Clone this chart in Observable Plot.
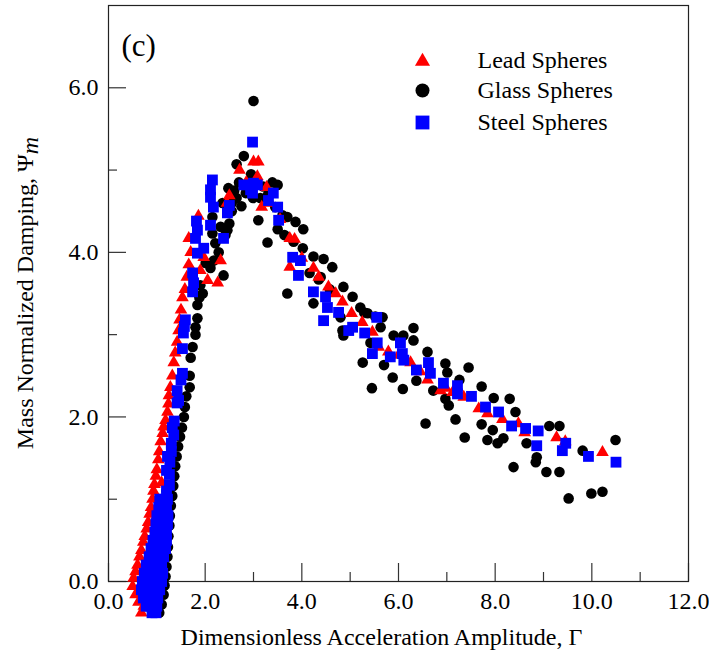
<!DOCTYPE html>
<html>
<head>
<meta charset="utf-8">
<script src="https://cdn.jsdelivr.net/npm/d3@7"></script>
<script src="https://cdn.jsdelivr.net/npm/@observablehq/plot@0.6"></script>
<style>
  html, body { margin: 0; padding: 0; background: #fff; }
  #chart { width: 709px; height: 657px; overflow: hidden; }
</style>
</head>
<body>
<div id="chart"></div>
<script>
// ---- tick values ----
const xMajorTicks = [0, 2, 4, 6, 8, 10, 12];
const xMinorTicks = [1, 3, 5, 7, 9, 11];
const yMajorTicks = [0, 2, 4, 6];
const yMinorTicks = [1, 3, 5];

// ---- series names ----
const seriesNames = ["Lead Spheres", "Glass Spheres", "Steel Spheres"];

// ---- Lead spheres (red triangles) ----
const leadX = [0.68,0.73,0.62,0.56,0.50,0.52,0.56,0.60,0.64,0.68,0.72,0.75,0.79,0.82,0.85,0.88,0.91,0.93,0.95,0.98,
  1.00,1.03,1.05,1.08,1.12,1.14,1.18,1.22,1.24,1.25,1.28,1.32,1.35,1.38,1.42,1.45,1.47,1.50,1.53,1.58,
  1.62,1.66,1.70,1.66,1.86,1.90,1.97,2.05,2.26,2.32,2.50,2.71,3.00,3.10,3.08,3.17,3.27,3.75,3.85,3.75,
  4.00,4.24,4.55,4.70,4.84,5.03,5.46,5.59,5.79,6.25,6.60,6.87,6.98,7.12,7.35,7.66,7.84,8.15,8.48,8.61,
  9.27,9.45,10.22,0.80,0.90,1.00,0.85,1.10,2.45,2.85,3.35,3.55,4.35,5.25,6.00,6.45];
const leadY = [-0.38,-0.30,-0.25,-0.16,-0.06,0.04,0.12,0.20,0.30,0.38,0.48,0.55,0.64,0.72,0.82,0.90,1.00,1.10,1.18,1.28,
  1.36,1.48,1.58,1.70,1.80,1.88,1.96,2.06,2.16,2.26,2.36,2.50,2.66,2.78,2.91,3.05,3.18,3.30,3.45,3.55,
  3.70,3.85,4.00,4.17,4.44,3.78,3.94,3.66,3.63,3.90,4.69,5.00,5.10,5.10,4.92,4.55,4.79,4.17,4.16,3.82,
  3.93,3.81,3.58,3.50,3.40,3.26,3.03,2.85,2.79,2.66,2.45,2.32,2.35,2.30,2.24,2.10,2.04,1.97,1.92,1.81,
  1.75,1.70,1.57,0.10,0.40,0.80,-0.20,1.20,4.60,4.85,4.60,4.40,3.70,3.15,2.75,2.55];

// ---- Glass spheres (black circles) ----
const glassX = [1.05,1.10,1.14,1.16,1.18,1.20,1.22,1.23,1.24,1.26,1.27,1.29,1.32,1.34,1.36,1.38,1.41,1.44,1.48,1.52,
  1.56,1.58,1.61,1.68,1.68,1.70,1.74,1.80,1.80,1.84,1.84,1.88,1.90,1.95,2.01,2.11,2.18,2.38,2.28,2.21,
  2.15,2.46,2.32,2.15,2.36,2.42,2.48,2.65,2.75,2.84,2.99,2.65,2.80,3.00,2.90,3.14,3.10,3.29,3.39,3.50,
  3.50,3.64,3.70,3.87,4.03,3.83,4.02,3.70,4.24,4.45,4.63,4.39,4.16,4.35,4.58,4.86,5.05,5.21,5.29,4.24,
  4.80,4.84,4.86,5.36,5.67,5.63,5.52,5.90,6.10,6.31,6.31,5.26,5.42,5.45,5.70,5.88,6.09,6.37,6.60,6.97,
  7.01,7.45,7.26,6.72,6.97,7.04,7.18,7.37,6.56,7.72,7.97,8.30,8.42,7.72,7.95,7.84,8.05,8.17,8.65,8.86,
  8.84,8.38,9.12,9.33,9.06,9.33,9.81,9.52,9.99,10.22,10.49,
  2.55,2.60,2.70,2.95,3.20,3.30,3.45,3.60,2.50,2.55,1.00,1.10,1.15,1.20];
const glassY = [-0.38,-0.28,-0.16,-0.05,0.06,0.18,0.30,0.42,0.55,0.68,0.80,0.92,1.04,1.16,1.28,1.40,1.52,1.64,1.76,1.87,
  2.00,2.12,2.25,2.36,2.50,2.72,2.85,3.00,3.09,3.20,3.36,3.45,3.60,3.50,3.87,3.81,3.90,3.72,4.00,4.11,
  4.23,4.27,4.31,4.43,4.60,4.21,4.78,4.66,4.56,4.72,4.66,5.07,5.17,5.84,4.85,4.66,4.39,4.12,4.85,4.82,
  4.28,4.21,4.43,4.37,4.28,4.13,4.05,3.50,3.95,3.92,3.82,3.70,3.75,3.67,3.55,3.58,3.46,3.33,3.27,3.38,
  3.21,3.05,2.99,3.26,3.21,3.09,3.22,2.99,2.99,3.08,2.93,2.66,2.90,2.35,2.63,2.48,2.34,2.44,2.79,2.65,
  2.54,2.60,2.45,2.32,2.22,2.14,1.97,1.75,1.92,2.37,2.23,2.22,2.06,1.91,1.84,1.72,1.68,1.74,1.68,1.51,
  1.45,1.39,1.89,1.89,1.33,1.33,1.59,1.01,1.07,1.09,1.72,
  4.50,4.75,4.85,4.95,4.80,4.70,4.55,4.45,4.35,4.60,0.10,0.50,0.90,1.10];

// ---- Steel spheres (blue squares) ----
const steelX = [0.90,0.98, 0.78,0.86,0.94,1.00, 0.72,0.80,0.88,0.96,1.02, 0.68,0.76,0.84,0.92,1.00,1.06,
  0.70,0.78,0.86,0.94,1.02,1.10, 0.74,0.82,0.90,0.98,1.06,1.12, 0.78,0.86,0.94,1.02,1.10, 0.84,0.92,1.00,1.08,1.14,
  0.88,0.96,1.04,1.12,1.18, 0.92,1.00,1.08,1.16,1.20, 0.96,1.04,1.12,1.20, 0.98,1.06,1.14,1.22, 1.00,1.08,1.16,1.23,
  1.04,1.12,1.20, 1.06,1.14,1.22,
  1.20,1.26,1.26,1.20,1.27,1.22,1.30,1.30,1.35,1.32,1.36,1.42,1.42,1.45,1.50,1.53,1.53,1.55,1.57,1.59,
  1.74,1.76,1.74,1.84,1.97,1.80,1.84,1.82,2.11,2.38,2.11,2.11,2.15,2.17,2.46,2.50,2.80,3.00,2.94,2.98,
  3.08,2.98,3.41,3.31,3.50,3.52,3.81,3.97,3.93,4.24,4.49,4.53,4.76,4.45,4.97,5.05,5.30,5.55,5.56,5.46,
  5.83,6.04,6.08,6.11,6.37,6.62,6.66,6.93,7.22,7.22,7.51,7.80,8.07,8.34,8.63,8.89,8.86,9.46,9.39,9.93,10.50];
const steelY = [-0.38,-0.38, -0.30,-0.30,-0.30,-0.30, -0.20,-0.20,-0.20,-0.20,-0.20, -0.10,-0.10,-0.10,-0.10,-0.10,-0.10,
  0.00,0.00,0.00,0.00,0.00,0.00, 0.10,0.10,0.10,0.10,0.10,0.10, 0.20,0.20,0.20,0.20,0.20, 0.30,0.30,0.30,0.30,0.30,
  0.40,0.40,0.40,0.40,0.40, 0.50,0.50,0.50,0.50,0.50, 0.60,0.60,0.60,0.60, 0.70,0.70,0.70,0.70, 0.80,0.80,0.80,0.80,
  0.90,0.90,0.90, 1.00,1.00,1.00,
  1.10,1.17,1.30,1.35,1.45,1.52,1.58,1.68,1.78,1.87,1.95,2.17,2.32,2.20,2.45,2.53,2.83,3.02,3.10,3.18,
  3.52,3.63,3.75,3.99,4.05,4.17,4.27,4.38,4.33,4.17,4.67,4.76,4.88,4.55,4.48,4.57,4.82,4.84,4.76,4.72,
  4.82,5.34,4.72,4.63,4.55,4.39,3.94,3.90,3.72,3.52,3.46,3.33,3.27,3.17,3.05,3.09,3.02,3.21,2.90,2.77,
  2.73,2.90,2.77,2.69,2.57,2.66,2.53,2.41,2.38,2.28,2.25,2.12,2.06,1.89,1.86,1.83,1.65,1.68,1.59,1.52,1.45];

const lead = leadX.map((x, i) => ({x, y: leadY[i]}));
const glass = glassX.map((x, i) => ({x, y: glassY[i]}));
const steel = steelX.map((x, i) => ({x, y: steelY[i]}));

const W = 709, H = 657;
const mL = 108, mR = 21, mT = 5, mB = 76;
const plotW = W - mL - mR, plotH = H - mT - mB;
const fmt = d3.format(".1f");
const font = "'Liberation Serif', 'Times New Roman', serif";

const chart = Plot.plot({
  width: W, height: H,
  marginLeft: mL, marginRight: mR, marginTop: mT, marginBottom: mB,
  x: {domain: [0, 12]},
  y: {domain: [0, 7]},
  style: {fontFamily: font, fontSize: "24px", background: "#fff", color: "#000", overflow: "visible"},
  marks: [
    Plot.axisX(xMajorTicks, {tickSize: 0, tickPadding: 10, tickFormat: fmt, label: null, fontSize: 24}),
    Plot.axisY(yMajorTicks, {tickSize: 0, tickPadding: 10, tickFormat: fmt, label: null, fontSize: 24}),
    Plot.tickX(xMajorTicks, {x: d => d, insetTop: plotH - 18, stroke: "#333", strokeWidth: 1.2}),
    Plot.tickX(xMinorTicks, {x: d => d, insetTop: plotH - 9, stroke: "#333", strokeWidth: 1.2}),
    Plot.tickY(yMajorTicks, {y: d => d, insetRight: plotW - 18, stroke: "#333", strokeWidth: 1.2}),
    Plot.tickY(yMinorTicks, {y: d => d, insetRight: plotW - 9, stroke: "#333", strokeWidth: 1.2}),
    Plot.frame({stroke: "#222", strokeWidth: 1.2}),
    Plot.dot(glass, {x: "x", y: "y", r: 5.3, symbol: "circle", fill: "#000", stroke: null}),
    Plot.dot(lead, {x: "x", y: "y", r: 4.7, symbol: "triangle", fill: "#ff0000", stroke: null}),
    Plot.dot(steel, {x: "x", y: "y", r: 6.1, symbol: "square", fill: "#0000ff", stroke: null}),
    // panel tag
    Plot.text(["(c)"], {frameAnchor: "top-left", dx: 13, dy: 41, textAnchor: "start", lineAnchor: "middle", fontSize: 31, fill: "#000"}),
    // legend symbols
    Plot.dot([seriesNames[0]], {frameAnchor: "top-left", dx: 314, dy: 56, symbol: "triangle", r: 5.6, fill: "#ff0000", stroke: null}),
    Plot.dot([seriesNames[1]], {frameAnchor: "top-left", dx: 314, dy: 85, symbol: "circle", r: 7, fill: "#000", stroke: null}),
    Plot.dot([seriesNames[2]], {frameAnchor: "top-left", dx: 314, dy: 117, symbol: "square", r: 7.8, fill: "#0000ff", stroke: null}),
    // legend labels
    Plot.text([seriesNames[0]], {frameAnchor: "top-left", dx: 369, dy: 55, textAnchor: "start", lineAnchor: "middle", fontSize: 24, fill: "#000"}),
    Plot.text([seriesNames[1]], {frameAnchor: "top-left", dx: 369, dy: 85, textAnchor: "start", lineAnchor: "middle", fontSize: 24, fill: "#000"}),
    Plot.text([seriesNames[2]], {frameAnchor: "top-left", dx: 369, dy: 117, textAnchor: "start", lineAnchor: "middle", fontSize: 24, fill: "#000"}),
    // x axis title
    Plot.text(["Dimensionless Acceleration Amplitude, Γ"], {frameAnchor: "bottom", dx: -17, dy: 56, textAnchor: "middle", lineAnchor: "middle", fontSize: 24, fill: "#000"})
  ]
});

// y axis title with italic subscript
const svg = d3.select(chart);
const yt = svg.append("text")
  .attr("transform", `translate(33, ${mT + plotH / 2}) rotate(-90)`)
  .attr("text-anchor", "middle")
  .attr("font-family", font)
  .attr("font-size", 24)
  .attr("fill", "#000");
yt.append("tspan").text("Mass Normalized Damping, Ψ");
yt.append("tspan").attr("font-style", "italic").attr("dy", "0.2em").text("m");

document.getElementById("chart").appendChild(chart);
</script>
</body>
</html>
